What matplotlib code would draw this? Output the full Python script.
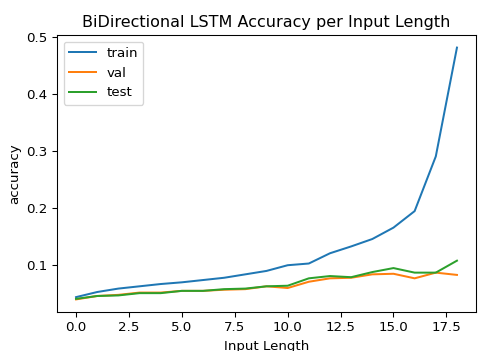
import matplotlib.pyplot as plt
import numpy as np

input_length = np.arange(19)
train_acc = [0.043, 0.052, 0.058, 0.062, 0.066, 0.069, 0.073, 0.077, 0.083, 0.089, 0.099,
             0.102, 0.120, 0.132, 0.145, 0.165, 0.194, 0.290, 0.481]
val_acc = [0.039, 0.045, 0.047, 0.051, 0.051, 0.054, 0.054, 0.056, 0.057, 0.062, 0.059,
           0.070, 0.076, 0.077, 0.083, 0.084, 0.076, 0.086, 0.082]
test_acc = [0.040, 0.045, 0.046, 0.050, 0.050, 0.054, 0.054, 0.057, 0.058, 0.062, 0.063,
            0.076, 0.080, 0.078, 0.087, 0.094, 0.086, 0.086, 0.107]

fig = plt.figure(figsize=(479 / 96, 351 / 96), dpi=96)
ax = fig.add_axes([57 / 479, 1 - 312 / 351, 419 / 479, 277 / 351])

ax.plot(input_length, train_acc, label='train')
ax.plot(input_length, val_acc, label='val')
ax.plot(input_length, test_acc, label='test')

ax.set_title('BiDirectional LSTM Accuracy per Input Length')
ax.set_xlabel('Input Length')
ax.set_ylabel('accuracy')
ax.legend(loc='upper left')

fig.savefig('out.png', dpi=96)
